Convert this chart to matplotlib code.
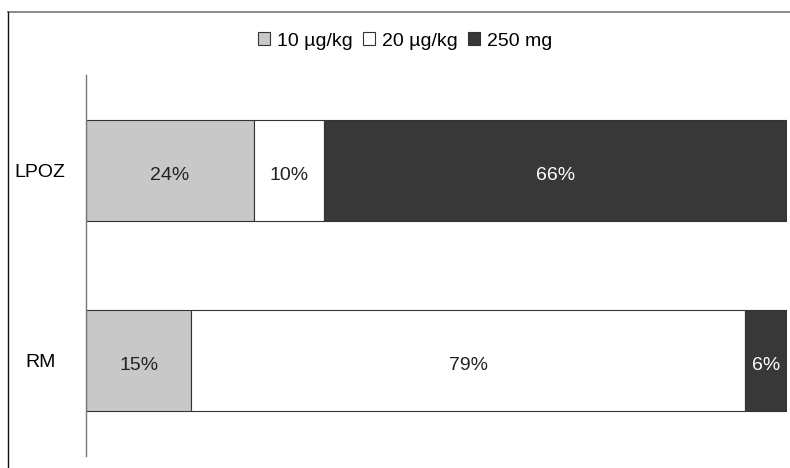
import matplotlib.pyplot as plt
from matplotlib.patches import Patch
from matplotlib.lines import Line2D

plt.rcParams['font.family'] = ['Liberation Sans', 'DejaVu Sans']

groups = ['LPOZ', 'RM']
doses = ['10 µg/kg', '20 µg/kg', '250 mg']
shares = {
    '10 µg/kg': [24, 15],
    '20 µg/kg': [10, 79],
    '250 mg': [66, 6],
}
colors = ['#c8c8c8', '#ffffff', '#383838']
text_colors = ['#222222', '#222222', '#ffffff']

fig = plt.figure(figsize=(7.9, 4.68), dpi=100)
ax = fig.add_axes([86 / 790, 1 - 456 / 468, (787 - 86) / 790, (456 - 75) / 468])

ypos = list(range(len(groups)))
left = [0] * len(groups)
for dose, col, tcol in zip(doses, colors, text_colors):
    vals = shares[dose]
    ax.barh(ypos, vals, left=left, height=0.53, color=col,
            edgecolor='#333333', linewidth=0.8)
    for y, v, l in zip(ypos, vals, left):
        ax.text(l + v / 2, y + 0.025, f'{v}%', ha='center', va='center',
                color=tcol, fontsize=14)
    left = [a + b for a, b in zip(left, vals)]

ax.set_xlim(0, 100)
ax.set_ylim(1.5, -0.5)
ax.set_yticks(ypos)
ax.set_yticklabels(groups, fontsize=14, ha='center')
ax.tick_params(axis='y', length=0, pad=33)
ax.set_xticks([])
for s in ['top', 'right', 'bottom']:
    ax.spines[s].set_visible(False)
ax.spines['left'].set_color('#777777')
ax.spines['left'].set_linewidth(1.0)

handles = [Patch(facecolor=c, edgecolor='#333333', linewidth=0.8) for c in colors]
fig.legend(handles, doses, loc='center', bbox_to_anchor=(405 / 790, 1 - 41 / 468),
           ncol=3, frameon=False, fontsize=14, handlelength=0.65, handleheight=0.65,
           handletextpad=0.35, columnspacing=0.5)

# outer frame: top and left edges only
fig.add_artist(Line2D([8 / 790, 1], [1 - 12 / 468, 1 - 12 / 468], color='#777777', linewidth=1.2))
fig.add_artist(Line2D([8 / 790, 8 / 790], [0, 1 - 12 / 468], color='#111111', linewidth=1.0))

fig.savefig('out.png', dpi=100)
